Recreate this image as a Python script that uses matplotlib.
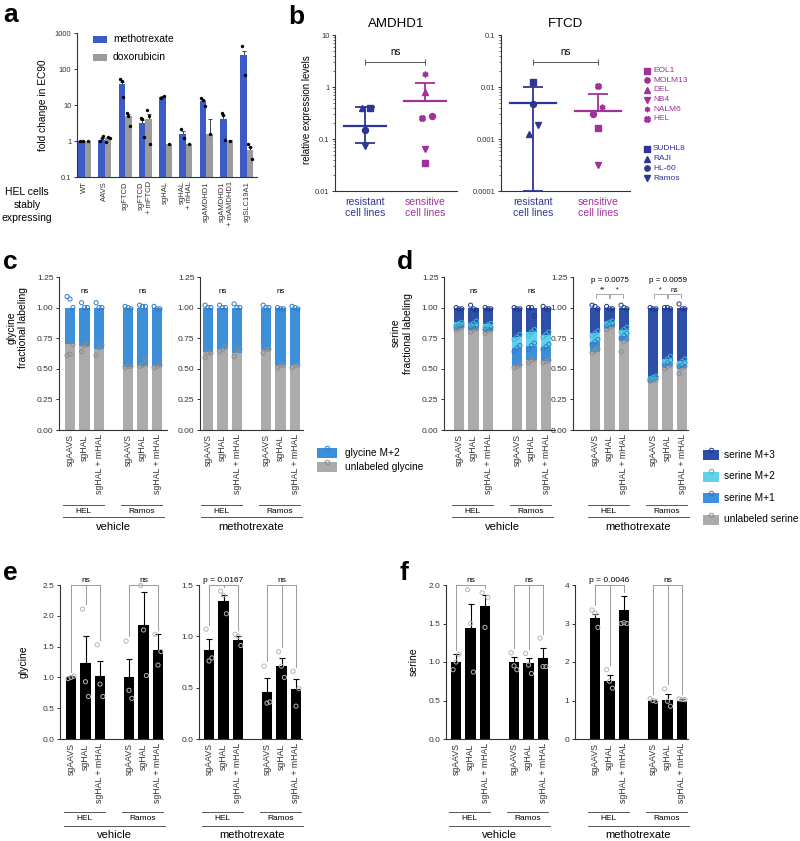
import numpy as np
import matplotlib
matplotlib.use("Agg")
import matplotlib.pyplot as plt
from matplotlib.patches import Rectangle
from matplotlib.lines import Line2D
from matplotlib import ticker

# ---------------- data ----------------
# panel a: fold change in EC90
a_labels = ["WT", "AAVS", "sgFTCD", "sgFTCD\n+ mFTCD", "sgHAL", "sgHAL\n+ mHAL",
            "sgAMDHD1", "sgAMDHD1\n+ mAMDHD1", "sgSLC19A1"]
a_mtx = [1.0, 1.1, 38, 3.1, 17, 1.6, 12.6, 4.1, 250]
a_mtx_err = [0.02, 0.1, 6, 0.8, 0.6, 0.3, 1.2, 1.2, 70]
a_dox = [1.0, 1.24, 5.0, 4.1, 0.8, 0.82, 1.6, 1.0, 0.57]
a_dox_err = [0.02, 0.08, 0.8, 1.5, 0.02, 0.02, 2.5, 0.04, 0.12]
a_mtx_pts = [[1.0, 1.0], [1.0, 1.24, 1.37], [53, 45, 17], [4.3, 4.1, 1.3], [16, 17.5],
             [2.1, 1.24], [15.5, 14, 9.4], [5.9, 5.4, 1.1], [445, 68]]
a_dox_pts = [[1.0], [0.95, 1.3, 1.2], [5.9, 5.0, 2.6], [7.2, 4.8, 0.85], [0.8],
             [0.82], [1.6], [1.0], [0.8, 0.66, 0.32]]

# panel b: relative expression levels
res_lines = ["SUDHL8", "RAJI", "HL-60", "Ramos"]
sen_lines = ["EOL1", "MOLM13", "DEL", "NB4", "NALM6", "HEL"]
amdhd1_res = [0.40, 0.39, 0.15, 0.073]
amdhd1_sen = [0.035, 0.28, 0.81, 0.065, 1.76, 0.25]
amdhd1_res_stats = (0.18, 0.083, 0.42)      # mean, lower, upper
amdhd1_sen_stats = (0.53, None, 1.19)
ftcd_res = [0.0123, 0.00123, 0.0047, 0.0019]
ftcd_sen = [0.0016, 0.0030, np.nan, 0.00031, 0.0042, 0.0106]
ftcd_res_stats = (0.0050, 0.0001, 0.0099)
ftcd_sen_stats = (0.0034, None, 0.0073)
amdhd1_res_dx = [0.08, -0.05, 0.0, 0.0]
amdhd1_sen_dx = [0.0, 0.12, 0.0, 0.0, 0.0, -0.05]
ftcd_res_dx = [0.0, -0.06, 0.0, 0.08]
ftcd_sen_dx = [0.0, -0.08, 0.0, 0.0, 0.06, 0.0]

# panels c-f conditions
cond_labels = ["sgAAVS", "sgHAL", "sgHAL + mHAL", "sgAAVS", "sgHAL", "sgHAL + mHAL"]
cell_groups = ["HEL", "Ramos"]

# panel c: glycine fractional labeling (unlabeled fraction, rest is M+2)
c_veh_unl = [0.70, 0.685, 0.66, 0.515, 0.52, 0.52]
c_mtx_unl = [0.635, 0.66, 0.627, 0.657, 0.527, 0.527]
c_veh_unl_pts = [[0.61, 0.62, 0.70], [0.64, 0.69, 0.70], [0.61, 0.67, 0.69],
                 [0.51, 0.52, 0.52], [0.52, 0.53, 0.58], [0.51, 0.52, 0.53]]
c_veh_top_pts = [[1.09, 1.07, 1.0], [1.04, 1.0, 1.0], [1.04, 1.0, 1.0],
                 [1.01, 1.0, 0.99], [1.02, 1.01, 1.01], [1.01, 0.99, 0.99]]
c_mtx_unl_pts = [[0.59, 0.63, 0.63], [0.64, 0.66, 0.68], [0.60, 0.65, 0.66],
                 [0.63, 0.66, 0.66], [0.51, 0.53, 0.53], [0.51, 0.53, 0.53]]
c_mtx_top_pts = [[1.02, 1.0, 1.0], [1.02, 1.0, 1.0], [1.03, 1.0, 1.0],
                 [1.02, 1.0, 1.0], [1.0, 0.99, 0.99], [1.01, 1.0, 0.99]]

# panel d: serine fractional labeling (cumulative levels: unlabeled, +M+1, +M+2)
d_veh_unl = [0.83, 0.82, 0.81, 0.52, 0.57, 0.56]
d_veh_m1 = [0.85, 0.85, 0.83, 0.67, 0.69, 0.68]
d_veh_m2 = [0.88, 0.87, 0.865, 0.76, 0.80, 0.78]
d_mtx_unl = [0.64, 0.84, 0.73, 0.41, 0.52, 0.51]
d_mtx_m1 = [0.72, 0.86, 0.77, 0.42, 0.55, 0.53]
d_mtx_m2 = [0.79, 0.88, 0.82, 0.43, 0.58, 0.56]
d_veh_unl_pts = [[0.82, 0.83, 0.84], [0.80, 0.82, 0.83], [0.79, 0.81, 0.82],
                 [0.51, 0.52, 0.53], [0.55, 0.57, 0.58], [0.55, 0.56, 0.57]]
d_veh_m1_pts = [[0.84, 0.85, 0.86], [0.84, 0.85, 0.86], [0.82, 0.83, 0.84],
                [0.64, 0.67, 0.69], [0.66, 0.69, 0.71], [0.66, 0.68, 0.70]]
d_veh_m2_pts = [[0.86, 0.87, 0.88], [0.86, 0.87, 0.89], [0.84, 0.86, 0.87],
                [0.74, 0.76, 0.78], [0.77, 0.80, 0.82], [0.76, 0.78, 0.80]]
d_veh_top_pts = [[1.0, 0.99, 0.99], [1.02, 0.99, 0.98], [1.0, 0.99, 0.99],
                 [1.0, 0.99, 0.99], [1.0, 1.0, 0.93], [1.01, 0.99, 0.99]]
d_mtx_unl_pts = [[0.63, 0.65, 0.66], [0.82, 0.84, 0.85], [0.64, 0.72, 0.74],
                 [0.40, 0.41, 0.41], [0.50, 0.52, 0.53], [0.46, 0.51, 0.52]]
d_mtx_m1_pts = [[0.70, 0.72, 0.74], [0.85, 0.86, 0.87], [0.75, 0.77, 0.79],
                [0.41, 0.42, 0.43], [0.53, 0.55, 0.57], [0.52, 0.53, 0.55]]
d_mtx_m2_pts = [[0.77, 0.79, 0.81], [0.87, 0.88, 0.89], [0.80, 0.82, 0.84],
                [0.42, 0.43, 0.44], [0.56, 0.58, 0.60], [0.54, 0.56, 0.58]]
d_mtx_top_pts = [[1.02, 1.01, 0.99], [1.01, 0.99, 0.99], [1.02, 1.0, 0.99],
                 [1.0, 0.99, 0.99], [1.0, 1.0, 0.99], [1.03, 0.99, 0.99]]

# panel e: glycine levels
e_veh = [1.0, 1.23, 1.02, 1.0, 1.85, 1.44]
e_veh_err = [0.02, 0.44, 0.25, 0.30, 0.53, 0.26]
e_veh_pts = [[0.98, 1.0, 1.02], [2.11, 0.93, 0.69], [1.53, 0.89, 0.69],
             [1.59, 0.79, 0.66], [2.49, 1.77, 1.03], [1.70, 1.2, 1.42]]
e_mtx = [0.87, 1.34, 0.96, 0.46, 0.71, 0.49]
e_mtx_err = [0.10, 0.06, 0.04, 0.13, 0.08, 0.09]
e_mtx_pts = [[1.07, 0.76, 0.79], [1.44, 1.40, 1.22], [1.02, 1.0, 0.91],
             [0.71, 0.35, 0.36], [0.85, 0.71, 0.60], [0.66, 0.32, 0.49]]

# panel f: serine levels
f_veh = [1.0, 1.44, 1.73, 1.0, 0.99, 1.05]
f_veh_err = [0.1, 0.31, 0.14, 0.06, 0.06, 0.13]
f_veh_pts = [[0.9, 1.0, 1.1], [1.94, 1.5, 0.87], [1.9, 1.45, 1.84],
             [1.12, 0.95, 0.9], [1.11, 0.96, 0.85], [1.31, 0.94, 0.94]]
f_mtx = [3.15, 1.51, 3.35, 0.98, 1.02, 1.0]
f_mtx_err = [0.1, 0.16, 0.36, 0.04, 0.15, 0.03]
f_mtx_pts = [[3.35, 3.27, 2.9], [1.8, 1.5, 1.32], [3.0, 3.02, 3.0],
             [1.05, 1.0, 0.98], [1.3, 0.98, 0.85], [1.04, 1.03, 1.02]]

# ---------------- style ----------------
plt.rcParams["font.family"] = ["Liberation Sans", "DejaVu Sans"]
plt.rcParams["font.size"] = 6
plt.rcParams["axes.linewidth"] = 0.8
plt.rcParams["axes.edgecolor"] = "#333333"
plt.rcParams["xtick.color"] = "#333333"
plt.rcParams["ytick.color"] = "#333333"

BLUE_A = "#3C5BC6"
GRAY_A = "#9B9B9B"
NAVY = "#2D3595"
MAG = "#A0309A"
UNL = "#ABABAB"
GLY = "#3D8FD9"
S_M1 = "#3D8FD9"
S_M2 = "#62D2EA"
S_M3 = "#2E4FA8"
BR = "#9A9A9A"

W, H = 800, 841
fig = plt.figure(figsize=(W / 100, H / 100), dpi=100)


def add_ax(l, t, r, b):
    ax = fig.add_axes([l / W, 1 - b / H, (r - l) / W, (b - t) / H])
    ax.spines["top"].set_visible(False)
    ax.spines["right"].set_visible(False)
    return ax


def ftext(x, y, s, **kw):
    fig.text(x / W, 1 - y / H, s, **kw)


def fpatch(x, y, w, h, color):
    fig.add_artist(Rectangle((x / W, 1 - (y + h) / H), w / W, h / H, color=color,
                             transform=fig.transFigure, lw=0))


def fmark(x, y, **kw):
    fig.add_artist(Line2D([x / W], [1 - y / H], transform=fig.transFigure, ls="none", **kw))


# panel letters
for lab, x, y in [("a", 3, 22), ("b", 288, 24), ("c", 3, 269), ("d", 397, 269),
                  ("e", 3, 580), ("f", 400, 580)]:
    ftext(x, y, lab, fontsize=19, fontweight="bold", va="baseline")

# ---------------- panel a ----------------
ax = add_ax(77, 33, 257, 177)
ax.set_yscale("log")
xa = np.arange(len(a_labels))
bw = 0.32
ekw = dict(ecolor="#444444", elinewidth=0.7, capsize=1.5, capthick=0.7)
ax.bar(xa - bw / 2, a_mtx, bw, color=BLUE_A, zorder=2)
ax.bar(xa + bw / 2, a_dox, bw, color=GRAY_A, zorder=2)
ax.errorbar(xa - bw / 2, a_mtx, yerr=[np.zeros(len(xa)), a_mtx_err], fmt="none", zorder=1, **ekw)
ax.errorbar(xa + bw / 2, a_dox, yerr=[np.zeros(len(xa)), a_dox_err], fmt="none", zorder=1, **ekw)
for i in range(len(xa)):
    for pts, off in [(a_mtx_pts[i], -bw / 2), (a_dox_pts[i], bw / 2)]:
        dx = np.linspace(-0.08, 0.08, len(pts)) if len(pts) > 1 else [0.0]
        ax.scatter(xa[i] + off + np.array(dx), pts, s=6, color="black", zorder=4, lw=0)
ax.set_ylim(0.1, 1000)
ax.set_xlim(-0.37, 8.5)
ax.set_yticks([0.1, 1, 10, 100, 1000])
ax.set_yticklabels(["0.1", "1", "10", "100", "1000"], fontsize=5.5)
ax.yaxis.set_minor_locator(ticker.NullLocator())
ax.set_xticks(xa)
ax.set_xticklabels(a_labels, rotation=90, fontsize=5.5, ha="center", va="top", multialignment="right")
ax.tick_params(axis="x", length=0, pad=3)
ax.tick_params(axis="y", length=2.5, width=0.7, pad=1.5)
ftext(43, 105, "fold change in EC90", rotation=90, ha="center", va="center", fontsize=7.3)
fpatch(93, 36, 14, 7, BLUE_A)
fpatch(93, 54, 14, 7, GRAY_A)
ftext(113, 39.5, "methotrexate", fontsize=7.5, va="center")
ftext(113, 57.5, "doxorubicin", fontsize=7.5, va="center")
ftext(27, 205, "HEL cells\nstably\nexpressing", fontsize=7.5, ha="center", va="center", linespacing=1.35)

# ---------------- panel b ----------------
res_markers = ["s", "^", "o", "v"]
sen_markers = ["s", "o", "^", "v", (6, 1, 0), "X"]


def expr_panel(ax, res, res_dx, res_stats, sen, sen_dx, sen_stats, ylim, yticks, ylabels, xlim, title):
    ax.set_yscale("log")
    ax.set_ylim(ylim)
    ax.set_xlim(xlim)
    for grp, vals, dxs, mk, stats, col in [(0, res, res_dx, res_markers, res_stats, NAVY),
                                           (1, sen, sen_dx, sen_markers, sen_stats, MAG)]:
        for v, dx, m in zip(vals, dxs, mk):
            if np.isfinite(v):
                ax.plot(grp + dx, v, marker=m, color=col, ms=4.3, ls="none", zorder=3)
        mean, lo, hi = stats
        ax.plot([grp - 0.35, grp + 0.35], [mean, mean], color=col, lw=1.6, zorder=4)
        lower = mean - lo if lo is not None else 0
        ax.errorbar(grp, mean, yerr=[[lower], [hi - mean]], fmt="none", ecolor=col,
                    elinewidth=1.3, capsize=7, capthick=1.3, zorder=4, clip_on=False)
    ns_y = 10 ** (np.log10(ylim[1]) - 0.52)
    ax.plot([0, 1], [ns_y, ns_y], color="#555555", lw=0.7, marker="|", ms=4, mew=0.7)
    ax.text(0.5, ns_y * 1.25, "ns", ha="center", va="bottom", fontsize=7)
    ax.set_yticks(yticks)
    ax.set_yticklabels(ylabels, fontsize=5.5)
    ax.yaxis.set_minor_locator(ticker.LogLocator(base=10, subs=np.arange(2, 10)))
    ax.yaxis.set_minor_formatter(ticker.NullFormatter())
    ax.tick_params(axis="y", which="major", length=2.5, width=0.7, pad=1.5)
    ax.tick_params(axis="y", which="minor", length=1.3, width=0.5)
    ax.set_xticks([0, 1])
    tl = ax.set_xticklabels(["resistant\ncell lines", "sensitive\ncell lines"], fontsize=7.5)
    tl[0].set_color(NAVY)
    tl[1].set_color(MAG)
    ax.tick_params(axis="x", length=0, pad=4)
    ax.set_title(title, fontsize=9.5, pad=6)


ax = add_ax(335, 35, 457, 191)
expr_panel(ax, amdhd1_res, amdhd1_res_dx, amdhd1_res_stats, amdhd1_sen, amdhd1_sen_dx,
           amdhd1_sen_stats, (0.01, 10), [0.01, 0.1, 1, 10], ["0.01", "0.1", "1", "10"],
           (-0.5, 1.53), "AMDHD1")
ftext(307, 110, "relative expression levels", rotation=90, ha="center", va="center", fontsize=7)
ax = add_ax(501, 35, 630, 191)
expr_panel(ax, ftcd_res, ftcd_res_dx, ftcd_res_stats, ftcd_sen, ftcd_sen_dx,
           ftcd_sen_stats, (0.0001, 0.1), [0.0001, 0.001, 0.01, 0.1],
           ["0.0001", "0.001", "0.01", "0.1"], (-0.49, 1.49), "FTCD")

for i, (name, m) in enumerate(zip(sen_lines, sen_markers)):
    y = 70.7 + i * 9.6
    fmark(647, y, marker=m, color=MAG, ms=3.8)
    ftext(653, y, name, color=MAG, fontsize=6, va="center")
for i, (name, m) in enumerate(zip(res_lines, res_markers)):
    y = 149 + i * 9.7
    fmark(647, y, marker=m, color=NAVY, ms=3.8)
    ftext(653, y, name, color=NAVY, fontsize=6, va="center")

# ---------------- panels c-f helpers ----------------
xpos = np.array([0, 1, 2, 4, 5, 6])
U = 14.5
jit = np.array([-0.2, 0.0, 0.2])


def bar_ax(l, t, r, b, b0, ylim, yticks, fmt):
    ax = add_ax(l, t, r, b)
    ax.set_xlim((l - b0) / U, (r - b0) / U)
    ax.set_ylim(ylim)
    ax.set_yticks(yticks)
    ax.set_yticklabels([fmt.format(v) for v in yticks], fontsize=6)
    ax.set_xticks(xpos)
    ax.set_xticklabels(cond_labels, rotation=90, fontsize=6.3, ha="center", va="top")
    ax.tick_params(axis="x", length=0, pad=3)
    ax.tick_params(axis="y", length=2.5, width=0.7, pad=1.5)
    ax.bbox_px = (t, b)
    return ax


def group_lines(ax, ys, main):
    t, b = ax.bbox_px
    h = b - t
    fr = [(b - y) / h for y in ys]
    tr = ax.get_xaxis_transform()
    kw = dict(color="#555555", lw=0.7, transform=tr, clip_on=False)
    ax.plot([-0.45, 2.35], [fr[0], fr[0]], **kw)
    ax.plot([3.55, 6.35], [fr[0], fr[0]], **kw)
    ax.plot([-0.45, 6.5], [fr[2], fr[2]], **kw)
    ax.text(0.95, fr[1], "HEL", transform=tr, ha="center", va="center", fontsize=6)
    ax.text(4.95, fr[1], "Ramos", transform=tr, ha="center", va="center", fontsize=6)
    ax.text(3.0, fr[3], main, transform=tr, ha="center", va="center", fontsize=8)


def stacked(ax, levels, colors, pts_sets, pt_colors):
    prev = np.zeros(len(xpos))
    for lev, col in zip(levels, colors):
        lev = np.asarray(lev, dtype=float)
        ax.bar(xpos, lev - prev, 0.7, bottom=prev, color=col, lw=0, zorder=2)
        prev = lev
    for pts, pc in zip(pts_sets, pt_colors):
        for xi, p in zip(xpos, pts):
            ax.scatter(xi + jit[:len(p)], p, s=9, facecolors="none", edgecolors=pc,
                       lw=0.7, zorder=3, clip_on=False)


def sig(ax, x, y, text):
    ax.text(x, y, text, ha="center", va="bottom", fontsize=5.8)


def pair(ax, x0, x1, y, text):
    ax.plot([x0, x0, x1, x1], [y - 0.03, y, y, y - 0.03], color=BR, lw=0.6, clip_on=False)
    ax.text((x0 + x1) / 2, y + 0.003, text, ha="center", va="bottom", fontsize=5)


def mean_bars(ax, means, errs, pts):
    ax.bar(xpos, means, 0.7, color="black", zorder=2)
    ax.errorbar(xpos, means, yerr=[np.zeros(len(xpos)), errs], fmt="none", ecolor="black",
                elinewidth=0.8, capsize=2, capthick=0.8, zorder=1)
    for xi, p in zip(xpos, pts):
        ax.scatter(xi + jit[:len(p)], p, s=9, facecolors="none", edgecolors="#B5B5B5",
                   lw=0.7, zorder=3, clip_on=False)


def legs(ax, idx, means, errs, pts, top, text):
    pad = 0.03 * top
    xs = xpos[idx]
    ax.plot([xs[0], xs[-1]], [top, top], color=BR, lw=0.7, clip_on=False)
    for i in idx:
        lb = max(max(pts[i]), means[i] + errs[i]) + pad
        ax.plot([xpos[i], xpos[i]], [min(lb, top), top], color=BR, lw=0.7, clip_on=False)
    ax.annotate(text, (xs[1], top), xytext=(0, 1), textcoords="offset points",
                ha="center", va="bottom", fontsize=6)


cd_ticks = [0, 0.25, 0.5, 0.75, 1.0, 1.25]
cd_rows = (505, 511, 517, 527)
ef_rows = (812, 819, 826, 835)

# ---------------- panel c ----------------
ones = np.ones(len(xpos))
for (l, r, b0), unl, unl_pts, top_pts, main in [((59, 167, 70), c_veh_unl, c_veh_unl_pts, c_veh_top_pts, "vehicle"),
                                                ((200, 303, 208), c_mtx_unl, c_mtx_unl_pts, c_mtx_top_pts, "methotrexate")]:
    ax = bar_ax(l, 277, r, 430, b0, (0, 1.25), cd_ticks, "{:.2f}")
    stacked(ax, [unl, ones], [UNL, GLY], [unl_pts, top_pts], ["#8C8C8C", "#2F7CC4"])
    sig(ax, 1, 1.1, "ns")
    sig(ax, 5, 1.1, "ns")
    group_lines(ax, cd_rows, main)
ftext(17, 328, "glycine\nfractional labeling", rotation=90, ha="center", va="center", fontsize=7.5)
fpatch(317, 448, 20, 10, GLY)
fmark(327, 448, marker="o", mfc="none", mec="#2F7CC4", ms=3.2, mew=0.7)
fpatch(317, 462, 20, 10, UNL)
fmark(327, 462, marker="o", mfc="none", mec="#8C8C8C", ms=3.2, mew=0.7)
ftext(345, 453, "glycine M+2", fontsize=7.3, va="center")
ftext(345, 467, "unlabeled glycine", fontsize=7.3, va="center")

# ---------------- panel d ----------------
panels_d = [((444, 555, 459), [d_veh_unl, d_veh_m1, d_veh_m2, ones],
             [d_veh_unl_pts, d_veh_m1_pts, d_veh_m2_pts, d_veh_top_pts], "vehicle"),
            ((573, 688, 595), [d_mtx_unl, d_mtx_m1, d_mtx_m2, ones],
             [d_mtx_unl_pts, d_mtx_m1_pts, d_mtx_m2_pts, d_mtx_top_pts], "methotrexate")]
for k, ((l, r, b0), levels, pts, main) in enumerate(panels_d):
    ax = bar_ax(l, 277, r, 430, b0, (0, 1.25), cd_ticks, "{:.2f}")
    stacked(ax, levels, [UNL, S_M1, S_M2, S_M3], pts, ["#8C8C8C", "#2F7CC4", "#3BB6D6", "#1F3585"])
    group_lines(ax, cd_rows, main)
    if k == 0:
        sig(ax, 1, 1.1, "ns")
        sig(ax, 5, 1.1, "ns")
    else:
        sig(ax, 1, 1.19, "p = 0.0075")
        sig(ax, 5, 1.19, "p = 0.0059")
        pair(ax, 0.05, 0.95, 1.11, "**")
        pair(ax, 1.05, 1.95, 1.11, "*")
        pair(ax, 4.05, 4.95, 1.11, "*")
        pair(ax, 5.05, 5.95, 1.11, "ns")
ftext(402, 333, "serine\nfractional labeling", rotation=90, ha="center", va="center", fontsize=7.5)
for i, (col, pc, name) in enumerate([(S_M3, "#1F3585", "serine M+3"), (S_M2, "#3BB6D6", "serine M+2"),
                                     (S_M1, "#2F7CC4", "serine M+1"), (UNL, "#8C8C8C", "unlabeled serine")]):
    y = 450 + i * 21.5
    fpatch(703, y, 16, 10, col)
    fmark(711, y, marker="o", mfc="none", mec=pc, ms=3.2, mew=0.7)
    ftext(724, y + 5, name, fontsize=7.3, va="center")

# ---------------- panel e ----------------
ax = bar_ax(60, 585, 163, 739, 71, (0, 2.5), [0, 0.5, 1.0, 1.5, 2.0, 2.5], "{:.1f}")
mean_bars(ax, e_veh, e_veh_err, e_veh_pts)
legs(ax, [0, 1, 2], e_veh, e_veh_err, e_veh_pts, 2.5, "ns")
legs(ax, [3, 4, 5], e_veh, e_veh_err, e_veh_pts, 2.5, "ns")
group_lines(ax, ef_rows, "vehicle")
ax = bar_ax(199, 585, 302, 739, 209, (0, 1.5), [0, 0.5, 1.0, 1.5], "{:.1f}")
mean_bars(ax, e_mtx, e_mtx_err, e_mtx_pts)
legs(ax, [0, 1, 2], e_mtx, e_mtx_err, e_mtx_pts, 1.5, "p = 0.0167")
legs(ax, [3, 4, 5], e_mtx, e_mtx_err, e_mtx_pts, 1.5, "ns")
group_lines(ax, ef_rows, "methotrexate")
ftext(24, 662, "glycine", rotation=90, ha="center", va="center", fontsize=7.5)

# ---------------- panel f ----------------
ax = bar_ax(446, 585, 548, 739, 456, (0, 2.0), [0, 0.5, 1.0, 1.5, 2.0], "{:.1f}")
mean_bars(ax, f_veh, f_veh_err, f_veh_pts)
legs(ax, [0, 1, 2], f_veh, f_veh_err, f_veh_pts, 2.0, "ns")
legs(ax, [3, 4, 5], f_veh, f_veh_err, f_veh_pts, 2.0, "ns")
group_lines(ax, ef_rows, "vehicle")
ax = bar_ax(575, 585, 688, 739, 595, (0, 4), [0, 1, 2, 3, 4], "{:.0f}")
mean_bars(ax, f_mtx, f_mtx_err, f_mtx_pts)
legs(ax, [0, 1, 2], f_mtx, f_mtx_err, f_mtx_pts, 4, "p = 0.0046")
legs(ax, [3, 4, 5], f_mtx, f_mtx_err, f_mtx_pts, 4, "ns")
group_lines(ax, ef_rows, "methotrexate")
ftext(414, 662, "serine", rotation=90, ha="center", va="center", fontsize=7.5)

fig.savefig("out.png", dpi=100)
